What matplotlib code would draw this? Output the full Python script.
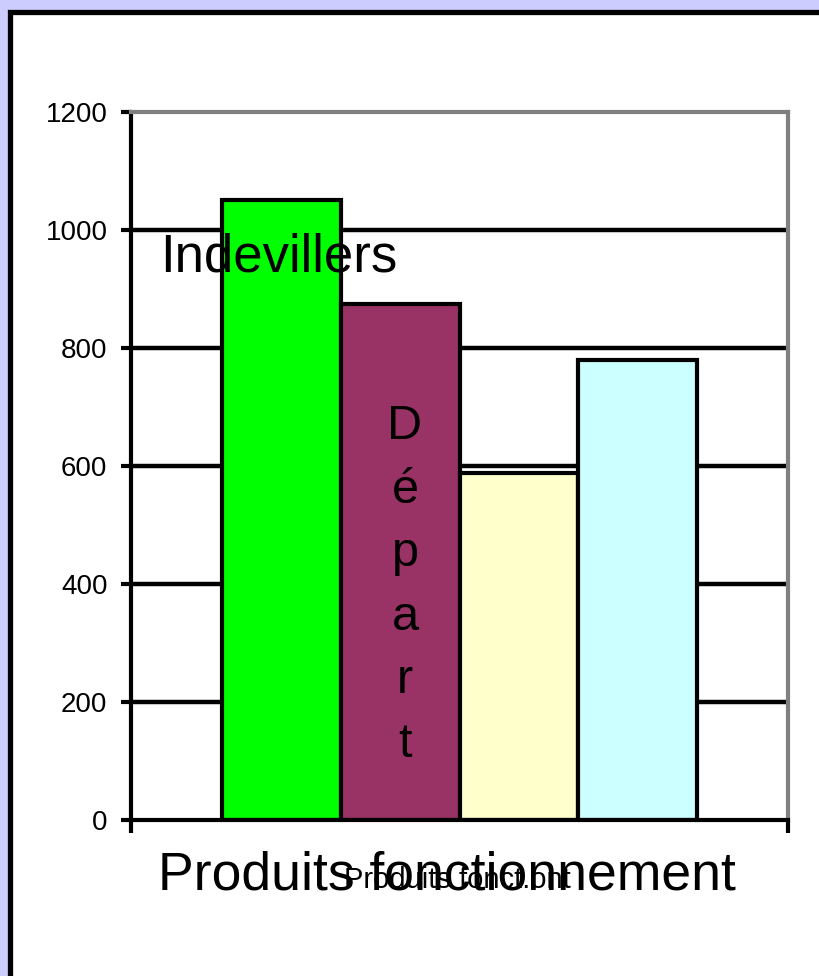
import matplotlib.pyplot as plt
from matplotlib.patches import Rectangle

# data
category = "Produits fonctionnement"
category_short = "Produits fonct.ont"
series_values = [1050, 875, 588, 780]
series_colors = ["#00ff00", "#993366", "#ffffcc", "#ccffff"]
first_label = "Indevillers"
second_label = "Départ"
y_ticks = [0, 200, 400, 600, 800, 1000, 1200]

narrow = ["Liberation Sans Narrow", "Liberation Sans", "DejaVu Sans"]
plain = ["Liberation Sans", "DejaVu Sans"]

fig = plt.figure(figsize=(8.19, 9.76), dpi=100)
fig.patch.set_facecolor("#ccccff")

# white panel with black frame, kept behind the axes
panel = Rectangle((9.5 / 819, -0.05), 1.1, (976 - 11.5) / 976 + 0.05,
                  transform=fig.transFigure, facecolor="white",
                  edgecolor="black", linewidth=3.8, zorder=-10)
fig.patches.append(panel)

ax = fig.add_axes([131 / 819, 156 / 976, 657 / 819, 708 / 976])
ax.set_facecolor("none")
ax.set_zorder(1)

bar_w = 0.181
n = len(series_values)
for i, (v, c) in enumerate(zip(series_values, series_colors)):
    ax.bar(0.5 + (i - (n - 1) / 2) * bar_w, v, width=bar_w, color=c,
           edgecolor="black", linewidth=3.0, zorder=3)

ax.set_xlim(0, 1)
ax.set_ylim(0, 1200)
ax.set_yticks(y_ticks)
ax.set_yticklabels([str(t) for t in y_ticks], family=narrow, fontsize=20)
ax.set_xticks([0, 1])
ax.set_xticklabels(["", ""])
ax.tick_params(axis="y", direction="out", length=7, width=3.0, pad=10)
ax.tick_params(axis="x", direction="out", length=9, width=3.0)

for t in y_ticks[1:-1]:
    ax.axhline(t, color="black", linewidth=3.2, zorder=1)

ax.spines["left"].set_linewidth(3.0)
ax.spines["bottom"].set_linewidth(3.0)
ax.spines["top"].set_color("#808080")
ax.spines["top"].set_linewidth(3.0)
ax.spines["right"].set_color("#808080")
ax.spines["right"].set_linewidth(3.0)
for s in ax.spines.values():
    s.set_zorder(4)

# series labels
ax.text(160 / 819, 1 - 272 / 976, first_label, family=plain, fontsize=38,
        va="baseline", ha="left", transform=fig.transFigure, zorder=6)
ax.text(405 / 819, 1 - 757 / 976, "\n".join(second_label), family=plain,
        fontsize=35, va="baseline", ha="center", multialignment="center",
        linespacing=1.53, transform=fig.transFigure, zorder=6)

# category labels
fig.text(447 / 819, 1 - 890 / 976, category, family=plain, fontsize=38.5,
         va="baseline", ha="center")
fig.text(457 / 819, 1 - 888 / 976, category_short, family=narrow,
         fontsize=21, va="baseline", ha="center")

fig.savefig("out.png", dpi=100, facecolor=fig.get_facecolor())
